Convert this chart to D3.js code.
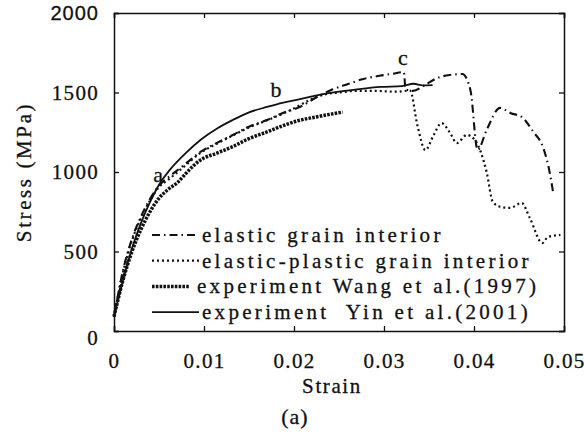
<!DOCTYPE html>
<html>
<head>
<meta charset="utf-8">
<script src="https://cdn.jsdelivr.net/npm/d3@7"></script>
<style>
  body { margin: 0; background: #fff; }
  svg text { font-family: "Liberation Serif", "Times New Roman", serif; fill: #111; stroke: #111; stroke-width: 0.3px; }
</style>
</head>
<body>
<div id="chart"></div>
<script>
// elastic grain interior (dash-dot)
var elasticStrain = [0, 0.001, 0.002, 0.003, 0.004, 0.005, 0.006, 0.0077, 0.0096, 0.0115, 0.0132, 0.015, 0.017, 0.0187, 0.0207, 0.0225, 0.0243, 0.026, 0.0277, 0.0295, 0.031, 0.0322, 0.0324, 0.0332, 0.0345, 0.0359, 0.0373, 0.0387, 0.0396, 0.0404, 0.0414, 0.0429, 0.0441, 0.0453, 0.0466, 0.0477, 0.0484, 0.0488];
var elasticStress = [90, 380, 580, 720, 830, 915, 965, 1040, 1126, 1185, 1233, 1285, 1327, 1370, 1410, 1470, 1520, 1553, 1585, 1605, 1618, 1629, 1520, 1510, 1545, 1591, 1610, 1616, 1516, 1138, 1264, 1403, 1370, 1346, 1252, 1151, 1000, 868];

// elastic-plastic grain interior (dotted)
var plasticStrain = [0, 0.001, 0.002, 0.003, 0.004, 0.005, 0.006, 0.0077, 0.0096, 0.0115, 0.0132, 0.015, 0.017, 0.0187, 0.0203, 0.0218, 0.0232, 0.025, 0.027, 0.029, 0.0314, 0.0329, 0.0337, 0.0346, 0.0355, 0.0364, 0.0373, 0.0381, 0.0392, 0.0401, 0.0414, 0.0421, 0.043, 0.044, 0.0453, 0.0462, 0.0476, 0.0482, 0.0496];
var plasticStress = [90, 370, 570, 710, 820, 905, 950, 1030, 1120, 1180, 1230, 1280, 1325, 1365, 1409, 1455, 1485, 1500, 1510, 1510, 1505, 1512, 1296, 1138, 1230, 1308, 1250, 1182, 1233, 1201, 1000, 811, 780, 774, 805, 711, 553, 591, 604];

// experiment Wang et al.(1997)
var wangStrain = [0, 0.001, 0.002, 0.003, 0.004, 0.005, 0.006, 0.007, 0.0083, 0.0096, 0.0115, 0.0132, 0.015, 0.017, 0.0187, 0.0203, 0.0228, 0.0254];
var wangStress = [90, 320, 500, 640, 750, 835, 890, 931, 1010, 1075, 1120, 1160, 1210, 1252, 1290, 1320, 1350, 1377];

// experiment Yin et al.(2001)
var yinStrain = [0, 0.001, 0.002, 0.003, 0.004, 0.005, 0.0062, 0.008, 0.0096, 0.0115, 0.0132, 0.015, 0.017, 0.0187, 0.0203, 0.022, 0.024, 0.0268, 0.0296, 0.032, 0.0333, 0.0343, 0.0354];
var yinStress = [90, 320, 520, 680, 810, 920, 1013, 1120, 1201, 1275, 1327, 1375, 1409, 1435, 1453, 1475, 1497, 1518, 1535, 1540, 1555, 1545, 1547];

var xTicks = [0, 0.01, 0.02, 0.03, 0.04, 0.05];
var yTicks = [0, 500, 1000, 1500, 2000];
var legendLabels = ["elastic grain interior", "elastic-plastic grain interior", "experiment Wang et al.(1997)", "experiment\u00a0 Yin et al.(2001)"];
var pointLabels = ["a", "b", "c"];
var pointStrain = [0.0049, 0.018, 0.0321];
var pointStress = [937, 1472, 1673];

var width = 584, height = 436;
var margin = {top: 13, right: 20, bottom: 105, left: 114};
var w = 564 - margin.left, h = 331 - margin.top;
var serif = '"Liberation Serif", "Times New Roman", serif';

var svg = d3.select("#chart").append("svg")
    .attr("width", width)
    .attr("height", height);

var g = svg.append("g")
    .attr("transform", "translate(" + margin.left + "," + margin.top + ")");

var x = d3.scaleLinear().domain([0, 0.05]).range([0, w]);
var y = d3.scaleLinear().domain([0, 2000]).range([h, 0]);

var series = [
  {xs: elasticStrain, ys: elasticStress, width: 2.1, dash: "8,4,1.5,4"},
  {xs: plasticStrain, ys: plasticStress, width: 2.2, dash: "2,3"},
  {xs: wangStrain, ys: wangStress, width: 3.5, dash: "2.6,1.2"},
  {xs: yinStrain, ys: yinStress, width: 1.8, dash: null}
];

var line = d3.line()
    .x(function(d) { return x(d[0]); })
    .y(function(d) { return y(d[1]); })
    .curve(d3.curveMonotoneX);

series.forEach(function(s) {
  var pts = s.xs.map(function(v, i) { return [v, s.ys[i]]; });
  g.append("path")
    .datum(pts)
    .attr("d", line)
    .attr("fill", "none")
    .attr("stroke", "#111")
    .attr("stroke-width", s.width)
    .attr("stroke-dasharray", s.dash);
});

// axes, ticks inside on all four sides
var fmtX = function(d) { return d === 0 ? "0" : d3.format(".2f")(d); };
g.append("g")
  .attr("transform", "translate(0," + h + ")")
  .call(d3.axisBottom(x).tickValues(xTicks).tickSize(-5).tickPadding(22).tickFormat(fmtX));
g.append("g")
  .call(d3.axisTop(x).tickValues(xTicks).tickSize(-5).tickFormat(""));
var left = g.append("g")
  .call(d3.axisLeft(y).tickValues(yTicks).tickSize(-5).tickPadding(15).tickFormat(d3.format("d")));
g.append("g")
  .attr("transform", "translate(" + w + ",0)")
  .call(d3.axisRight(y).tickValues(yTicks).tickSize(-5).tickFormat(""));

g.selectAll(".domain").attr("stroke", "#111").attr("stroke-width", 1.5);
g.selectAll(".tick line").attr("stroke", "#111").attr("stroke-width", 1.3);
g.selectAll(".tick text")
  .style("font-size", "21px")
  .style("font-family", serif)
  .style("letter-spacing", "1.3px")
  .attr("fill", "#111");
// the top label is set in a sans face in the original, and the 0 sits a bit low
left.selectAll(".tick text").filter(function(d) { return d === 2000; })
  .style("font-family", '"Liberation Sans", Arial, sans-serif')
  .style("font-size", "20px")
  .style("letter-spacing", "1px");
left.selectAll(".tick text").filter(function(d) { return d === 0; })
  .attr("dy", "0.62em");

// axis titles
svg.append("text")
  .attr("x", 332).attr("y", 393)
  .attr("text-anchor", "middle")
  .style("font-family", serif)
  .style("font-size", "21px")
  .style("letter-spacing", "1.6px")
  .text("Strain");

svg.append("text")
  .attr("transform", "translate(31," + (margin.top + h / 2) + ") rotate(-90)")
  .attr("text-anchor", "middle")
  .style("font-family", serif)
  .style("font-size", "21px")
  .style("letter-spacing", "2.6px")
  .text("Stress (MPa)");

svg.append("text")
  .attr("x", 295).attr("y", 424)
  .attr("text-anchor", "middle")
  .style("font-family", serif)
  .style("font-size", "22px")
  .style("letter-spacing", "1px")
  .text("(a)");

// point annotations
pointLabels.forEach(function(t, i) {
  g.append("text")
    .attr("x", x(pointStrain[i]))
    .attr("y", y(pointStress[i]))
    .attr("text-anchor", "middle")
    .style("font-family", serif)
    .style("font-size", "22px")
    .text(t);
});

// legend
var legend = svg.append("g").attr("transform", "translate(152,235)");
legendLabels.forEach(function(t, i) {
  var s = series[i];
  var row = legend.append("g").attr("transform", "translate(0," + (i * 25.7) + ")");
  row.append("line")
    .attr("x1", 0).attr("x2", i === 2 ? 38 : 47)
    .attr("y1", 0).attr("y2", 0)
    .attr("stroke", "#111")
    .attr("stroke-width", s.width)
    .attr("stroke-dasharray", s.dash);
  row.append("text")
    .attr("x", i === 2 ? 45 : 50).attr("y", 7)
    .style("font-family", serif)
    .style("font-size", "21px")
    .style("letter-spacing", "3.3px")
    .text(t);
});
</script>
</body>
</html>
